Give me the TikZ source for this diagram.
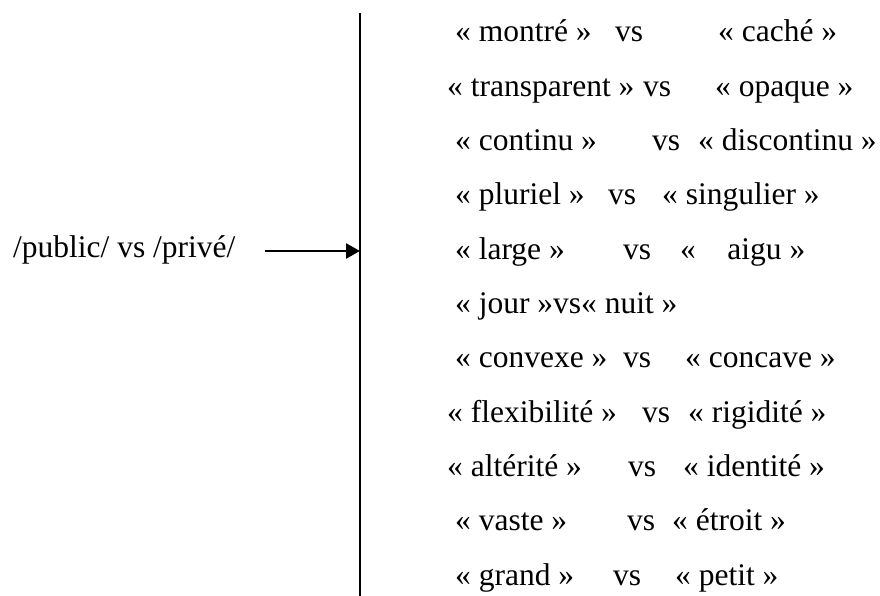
\documentclass[tikz,border=0pt]{standalone}
\usepackage{fontspec}
\setmainfont{Liberation Serif}
\usetikzlibrary{arrows.meta}
\tikzset{
  every picture/.style={x=1pt, y=-1pt, line cap=butt},
  every node/.style={font=\fontsize{31.5}{36}\selectfont, inner sep=0pt, anchor=base west},
  % traits
  axe/.style={line width=2.3pt},
  fleche/.style={line width=2.6pt, -{Triangle[length=14pt,width=15pt]}},
}

\begin{document}
\begin{tikzpicture}
  \useasboundingbox (0,0) rectangle (880,596);
  % axe vertical
  \coordinate (haut) at (360,13);
  \coordinate (bas) at (360,596);
  \draw[axe] (haut) -- (bas);
  % terme de gauche et fleche
  \node (pub) at (13,257) {/public/ vs /privé/};
  \coordinate (depart) at (265,251);
  \coordinate (cible) at (360,251);
  \draw[fleche] (depart) -- (cible);
  % oppositions (x du terme gauche, de vs, du terme droit)
  \foreach \i/\xg/\tg/\xv/\xd/\td in {
      1/455/montré/615/718/caché,
      2/447/transparent/643/715/opaque,
      3/455/continu/652/698/discontinu,
      4/455/pluriel/608/662/singulier,
      5/455/large/623/680/{\hspace{0.75em}aigu},
      7/455/convexe/623/685/concave,
      8/447/flexibilité/642/688/rigidité,
      9/447/altérité/628/683/identité,
      10/455/vaste/627/672/étroit,
      11/455/grand/613/675/petit} {
    \pgfmathsetmacro{\yb}{42+(\i-1)*54.3}
    \node (g\i) at (\xg,\yb) {« \tg{} »};
    \node (v\i) at (\xv,\yb) {vs};
    \node (d\i) at (\xd,\yb) {« \td{} »};
  }
  \node (g6) at (455,313.5) {« jour »vs« nuit »};
\end{tikzpicture}
\end{document}
